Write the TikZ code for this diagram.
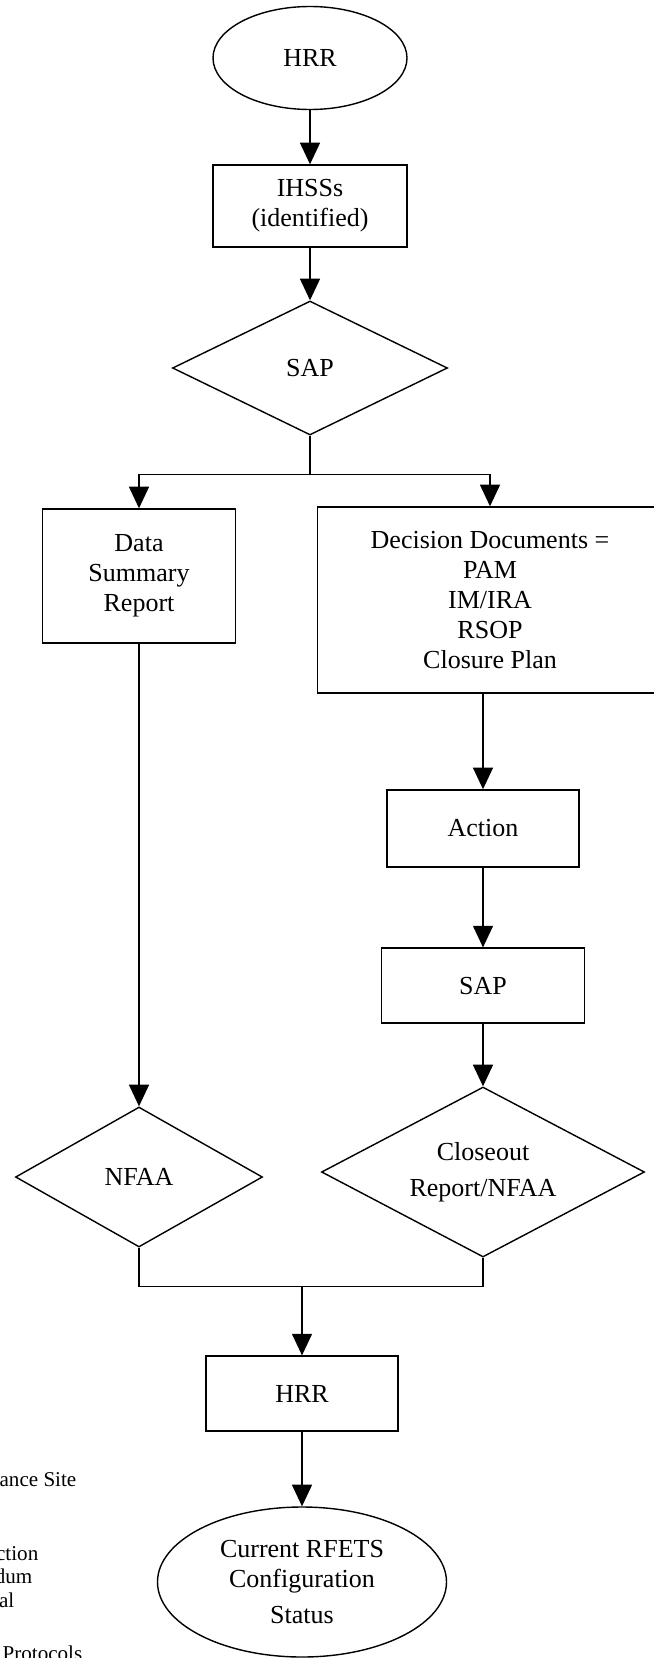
\documentclass[tikz,border=0pt]{standalone}
\usepackage{fontspec}
\setmainfont{Liberation Serif}
\usepackage{tikz}
\usetikzlibrary{shapes.geometric, arrows.meta, positioning}

\begin{document}
\begin{tikzpicture}[font=\fontsize{18.5}{21.5}\selectfont, node distance={37mm}, line width=1pt, >={Triangle[width=5mm, length=5.4mm]},
                    box/.style = {draw, rectangle, align=center, inner sep=0pt},
                    term/.style = {draw, ellipse, align=center, inner sep=0pt},
                    decide/.style = {draw, diamond, aspect=2, align=center, inner sep=0pt},
                    legend/.style = {anchor=base east, inner sep=0pt, font=\fontsize{15}{17}\selectfont}]
                \useasboundingbox (0,0) rectangle (16.35,-41.45);
                \node[term, minimum width=48.5mm, minimum height=25.75mm] (hrr) at (7.75,-1.45) {HRR};
                \node[box, minimum width=48.5mm, minimum height=20.5mm] (ihss) [below of=hrr] {IHSSs\\(identified)};
                \node[decide, minimum width=68.75mm, minimum height=33.5mm] (sap) [below of=ihss, node distance=40.5mm] {SAP};
                \node[box, minimum width=48.25mm, minimum height=33.5mm] (dsr) [on grid, below left=52mm and 42.75mm of sap] {Data\\Summary\\Report};
                \node[box, minimum width=86.25mm, minimum height=46.5mm] (dec) [on grid, below right=58mm and 45mm of sap] {Decision Documents =\\PAM\\IM/IRA\\RSOP\\Closure Plan};
                \node[box, minimum width=48mm, minimum height=19.25mm] (act) [on grid, below left=57.1mm and 1.75mm of dec] {Action};
                \node[box, minimum width=50.75mm, minimum height=18.75mm] (sap2) [below of=act, node distance=39.3mm] {SAP};
                \node[decide, minimum width=80.75mm, minimum height=42.5mm] (clo) [below of=sap2, node distance=46.6mm] {Closeout\\[4pt]Report/NFAA};
                \node[decide, minimum width=61.75mm, minimum height=35mm] (nfaa) [below of=dsr, node distance=150.25mm] {NFAA};
                \node[box, minimum width=48mm, minimum height=18.75mm] (hrr2) [on grid, below right=54.15mm and 40.75mm of nfaa] {HRR};
                \node[term, minimum width=72.25mm, minimum height=37.5mm] (cur) [below of=hrr2, node distance=47.1mm] {Current RFETS\\Configuration\\[4pt]Status};
                % legend, cut by the page edge
                \node[legend] (l1) at (1.925,-37.15) {ance Site};
                \node[legend] (l2) at (0.975,-39.0) {ction};
                \node[legend] (l3) at (0.825,-39.575) {dum};
                \node[legend] (l4) at (0.375,-40.175) {al};
                \node[legend] (l5) at (2.075,-41.5) {Protocols};
                \draw[->] (hrr) -- (ihss);
                \draw[->] (ihss) -- (sap);
                \draw (sap.south) -- ++(0,-0.975) coordinate (split);
                \draw[->] (split) -| (dsr.north);
                \draw[->] (split) -| (dec.north);
                \draw[->] (dsr) -- (nfaa);
                \draw[->] (dec.south -| act.north) -- (act.north);
                \draw[->] (act) -- (sap2);
                \draw[->] (sap2) -- (clo);
                \draw (nfaa.south) -- ++(0,-0.975) coordinate (nl) -| (clo.south);
                \coordinate (join) at (hrr2.north |- nl);
                \draw[->] (join) -- (hrr2.north);
                \draw[->] (hrr2) -- (cur);
            \end{tikzpicture}
\end{document}
